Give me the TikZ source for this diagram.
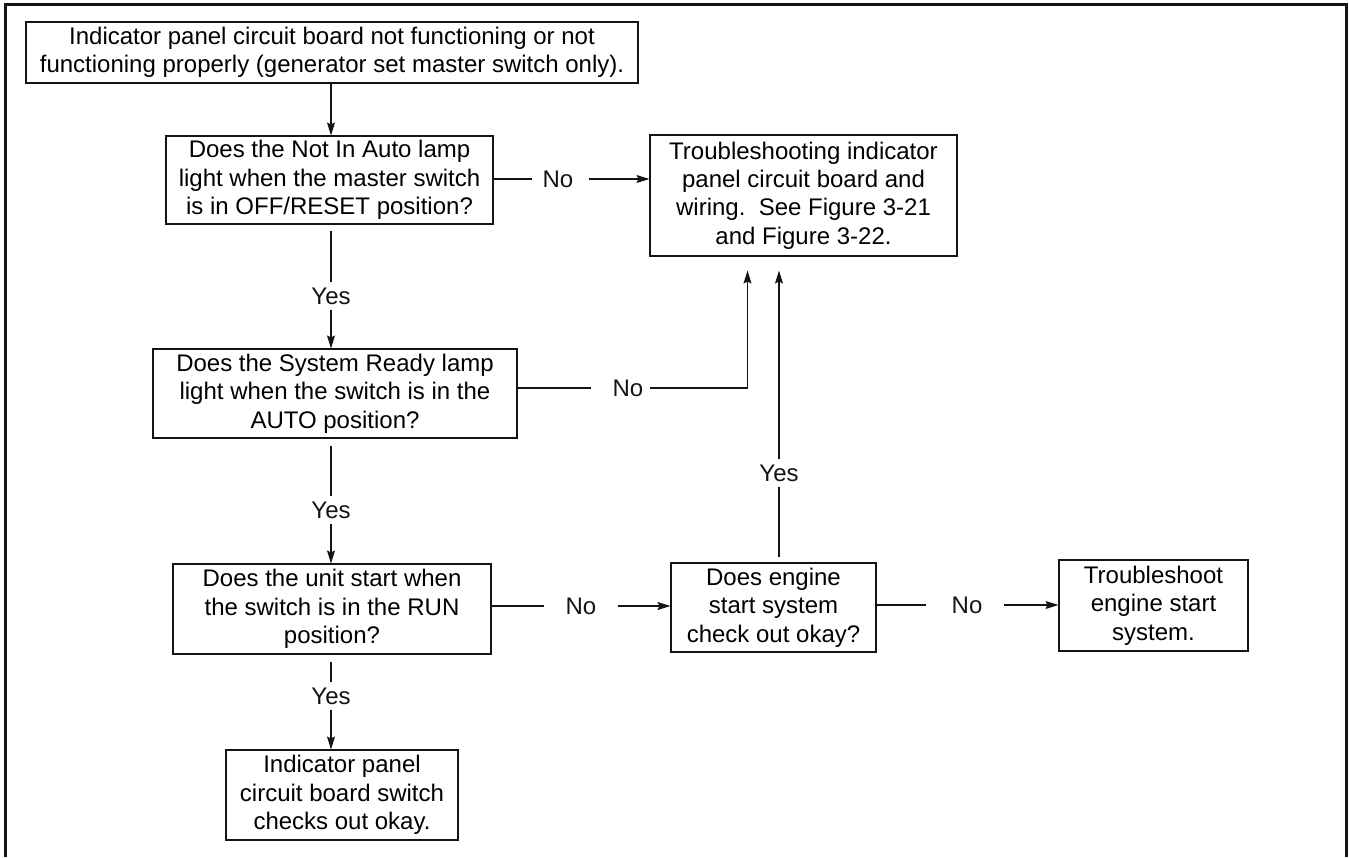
\documentclass[tikz,border=0pt]{standalone}
\usepackage{fontspec}
\setmainfont{Liberation Sans}
\usepackage{tikz}
\usetikzlibrary{arrows.meta, positioning, calc}
\definecolor{ink}{RGB}{20,20,20}
\tikzset{
  box/.style={rectangle, draw=ink, fill=white, align=center,
    inner sep=0pt, line width=1.1pt},
  lbl/.style={inner xsep=0pt, inner ysep=5pt, text=ink},
  arrow/.style={-{Stealth[length=13pt, width=8pt, inset=2pt]}, line width=1.1pt, color=ink},
  line/.style={line width=1.1pt, color=ink},
  frame/.style={line width=3pt, color=ink}
}

\begin{document}
\begin{tikzpicture}[x=1pt, y=-1pt, font=\fontsize{24}{28.3}\selectfont]
  \useasboundingbox (0,0) rectangle (1349,857);
  % Frame (open at the bottom)
  \draw[frame] (5.5,857) -- (5.5,4.5) -- (1346.5,4.5) -- (1346.5,857);
  % Boxes
  \node[box, minimum width=612pt, minimum height=61pt] (start) at (332,52.5)
    {Indicator panel circuit board not functioning or not\\functioning properly (generator set master switch only).};
  \node[box, minimum width=327pt, minimum height=88pt] (q1) at (329.5,180)
    {Does the Not In Auto lamp\\light when the master switch\\is in OFF/RESET position?};
  \node[box, minimum width=307pt, minimum height=121pt] (fix) at (803.5,195.5)
    {Troubleshooting indicator\\panel circuit board and\\wiring.\ \ See Figure 3-21\\and Figure 3-22.};
  \node[box, minimum width=364pt, minimum height=89pt] (q2) at (335,393.5)
    {Does the System Ready lamp\\light when the switch is in the\\AUTO position?};
  \node[box, minimum width=318pt, minimum height=90pt] (q3) at (332,609)
    {Does the unit start when\\the switch is in the RUN\\position?};
  \node[box, minimum width=205pt, minimum height=89pt] (q4) at (773.5,607.5)
    {Does engine\\start system\\check out okay?};
  \node[box, minimum width=189pt, minimum height=91pt] (eng) at (1153.5,605.5)
    {Troubleshoot\\engine start\\system.};
  \node[box, minimum width=232pt, minimum height=90pt] (ok) at (342,795)
    {Indicator panel\\circuit board switch\\checks out okay.};
  % Labels
  \node[lbl] (yes1) at (331,296) {Yes};
  \node[lbl] (yes2) at (331,510) {Yes};
  \node[lbl] (yes3) at (331,696) {Yes};
  \node[lbl] (yes4) at (779,473) {Yes};
  \node[lbl] (no1) at (558,179) {No};
  \node[lbl] (no2) at (628,388) {No};
  \node[lbl] (no3) at (581,606) {No};
  \node[lbl] (no4) at (967,605) {No};
  % Main column
  \draw[arrow] (start.south -| yes1) -- (q1.north -| yes1);
  \draw[line, shorten <=6pt] (q1.south -| yes1) -- (yes1.north);
  \draw[arrow] (yes1.south) -- (q2.north -| yes1);
  \draw[line, shorten <=7pt] (q2.south -| yes2) -- (yes2.north);
  \draw[arrow] (yes2.south) -- (q3.north -| yes2);
  \draw[line, shorten <=7pt] (q3.south -| yes3) -- (yes3.north);
  \draw[arrow] (yes3.south) -- (ok.north -| yes3);
  % No branches
  \draw[line, shorten >=10pt] (q1.east |- no1) -- (no1.west);
  \draw[arrow, shorten <=15pt] (no1.east) -- (fix.west |- no1);
  \draw[line, shorten >=21pt] (q2.east |- no2) -- (no2.west);
  \draw[arrow, shorten <=6pt, shorten >=14pt] (no2.east) -| ([xshift=-56pt]fix.south);
  \draw[line, shorten >=21pt] (q3.east |- no3) -- (no3.west);
  \draw[arrow, shorten <=21pt] (no3.east) -- (q4.west |- no3);
  \draw[line, shorten >=25pt] (q4.east |- no4) -- (no4.west);
  \draw[arrow, shorten <=21pt] (no4.east) -- (eng.west |- no4);
  % Engine check okay
  \draw[line, shorten <=5pt] (q4.north -| yes4) -- (yes4.south);
  \draw[arrow, shorten >=14pt] (yes4.north) -- (fix.south -| yes4);
\end{tikzpicture}
\end{document}
